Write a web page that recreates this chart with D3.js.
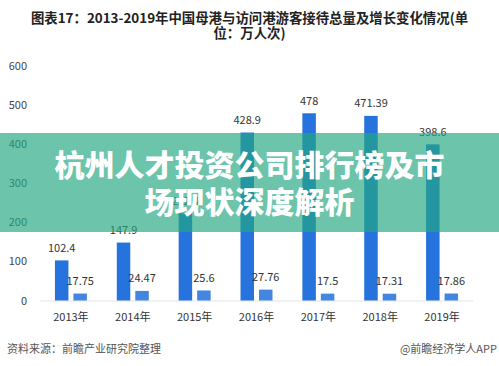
<!DOCTYPE html>
<html>
<head>
<meta charset="utf-8">
<script src="https://cdn.jsdelivr.net/npm/d3@7"></script>
<style>
  html, body { margin: 0; padding: 0; background: #fff; }
  svg { display: block; font-family: "Noto Sans CJK SC", "Noto Sans", sans-serif; }
</style>
</head>
<body>
<svg id="chart" width="499" height="366"></svg>
<script>
// 数据
const years = ["2013年", "2014年", "2015年", "2016年", "2017年", "2018年", "2019年"];
const totalValues = [102.4, 147.9, 222.4, 428.9, 478, 471.39, 398.6];
const growthValues = [17.75, 24.47, 25.6, 27.76, 17.5, 17.31, 17.86];
const yTicks = [0, 100, 200, 300, 400, 500, 600];
const titleLines = ["图表17：2013-2019年中国母港与访问港游客接待总量及增长变化情况(单", "位：万人次)"];
const bannerLines = ["杭州人才投资公司排行榜及市", "场现状深度解析"];

const svg = d3.select('#chart');
const W = 499, H = 366;
const plotLeft = 40, plotRight = 473, plotTop = 65.5, plotBottom = 300.5;

// 标题
svg.append('g').selectAll('text')
    .data(titleLines)
    .enter()
    .append('text')
    .attr('x', W / 2)
    .attr('y', (d, i) => 22.5 + i * 15.5)
    .attr('text-anchor', 'middle')
    .style('font-size', '13.4px')
    .style('font-weight', 'bold')
    .style('fill', '#222')
    .text(d => d);

const x0 = d3.scaleBand().domain(years).range([plotLeft, plotRight]).paddingInner(0.483).paddingOuter(0.2415);
const x1 = d3.scaleBand().domain([0, 1]).range([0, x0.bandwidth()]).paddingInner(0.27);
const y = d3.scaleLinear().domain([0, 600]).range([plotBottom, plotTop]);

// y 轴刻度
svg.append('g').selectAll('text')
    .data(yTicks)
    .enter()
    .append('text')
    .attr('x', 27)
    .attr('y', d => y(d) + 4)
    .attr('text-anchor', 'end')
    .style('font-size', '11px')
    .style('fill', '#444')
    .text(d => d);

// 底线
svg.append('line')
    .attr('x1', plotLeft).attr('x2', plotRight)
    .attr('y1', plotBottom + 0.5).attr('y2', plotBottom + 0.5)
    .attr('stroke', '#e3e3e3');

const colors = ['#2673DD', '#4386E2'];
const series = [totalValues, growthValues];

series.forEach((vals, s) => {
    const g = svg.append('g');
    g.selectAll('rect')
        .data(vals)
        .enter()
        .append('rect')
        .attr('x', (d, i) => x0(years[i]) + x1(s))
        .attr('y', d => y(d))
        .attr('width', x1.bandwidth())
        .attr('height', d => plotBottom - y(d))
        .attr('fill', colors[s]);
    g.selectAll('text')
        .data(vals)
        .enter()
        .append('text')
        .attr('x', (d, i) => x0(years[i]) + x1(s) + x1.bandwidth() / 2)
        .attr('y', d => y(d) - 8.5)
        .attr('text-anchor', 'middle')
        .style('font-size', '11px')
        .style('fill', '#333')
        .text(d => d);
});

// x 轴标签
svg.append('g').selectAll('text')
    .data(years)
    .enter()
    .append('text')
    .attr('x', d => x0(d) + x0.bandwidth() / 2)
    .attr('y', 321)
    .attr('text-anchor', 'middle')
    .style('font-size', '11px')
    .style('fill', '#333')
    .text(d => d);

// 来源
svg.append('text')
    .attr('x', 7).attr('y', 353)
    .style('font-size', '11px').style('fill', '#555')
    .text('资料来源：前瞻产业研究院整理');
svg.append('text')
    .attr('x', 497).attr('y', 353)
    .attr('text-anchor', 'end')
    .style('font-size', '11px').style('fill', '#555')
    .text('@前瞻经济学人APP');

// 横幅
svg.append('rect')
    .attr('x', 0).attr('y', 133)
    .attr('width', W).attr('height', 99)
    .attr('fill', 'rgb(36,167,128)')
    .attr('fill-opacity', 0.67);
svg.append('g').selectAll('text')
    .data(bannerLines)
    .enter()
    .append('text')
    .attr('x', W / 2)
    .attr('y', (d, i) => 176 + i * 37)
    .attr('text-anchor', 'middle')
    .style('font-size', '30px')
    .style('font-weight', '900')
    .style('fill', '#fff')
    .text(d => d);
</script>
</body>
</html>
